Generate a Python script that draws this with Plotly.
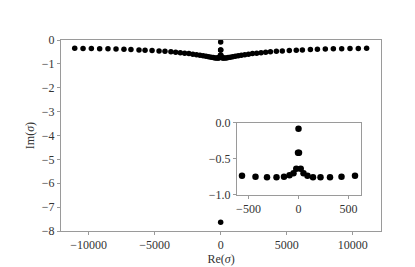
import plotly.graph_objects as go

# Spectrum points (Re(sigma), Im(sigma))
re_sigma = [
    -11060, -10430, -9800, -9170, -8540, -7930, -7330, -6800, -6190, -5730,
    -5200, -4670, -4220, -3770, -3410, -3060, -2730, -2410, -2110, -1830,
    -1570, -1330, -1110, -910, -730,
    -565, -430, -315, -220, -145, -90, -50, -22,
    0, -5, 5, 0,
    22, 50, 90, 145, 220, 315, 430, 565,
    730, 910, 1110, 1330, 1570, 1830, 2110, 2410, 2730, 3060,
    3410, 3770, 4220, 4670, 5200, 5730, 6190, 6800, 7330, 7930,
    8540, 9170, 9800, 10430, 11060,
]
im_sigma = [
    -0.35, -0.355, -0.36, -0.37, -0.37, -0.38, -0.39, -0.40, -0.42, -0.43,
    -0.44, -0.46, -0.47, -0.49, -0.51, -0.53, -0.55, -0.57, -0.60, -0.62,
    -0.64, -0.66, -0.68, -0.70, -0.72,
    -0.736, -0.749, -0.757, -0.757, -0.75, -0.73, -0.70, -0.64,
    -0.085, -0.417, -0.417, -7.63,
    -0.64, -0.70, -0.735, -0.757, -0.757, -0.757, -0.75, -0.736,
    -0.72, -0.70, -0.68, -0.66, -0.64, -0.62, -0.60, -0.57, -0.55, -0.53,
    -0.51, -0.49, -0.47, -0.46, -0.44, -0.43, -0.42, -0.40, -0.39, -0.38,
    -0.37, -0.37, -0.36, -0.355, -0.35,
]

main_xticks = [-10000, -5000, 0, 5000, 10000]
main_yticks = [0, -1, -2, -3, -4, -5, -6, -7, -8]
inset_xticks = [-500, 0, 500]
inset_yticks = [0.0, -0.5, -1.0]

FONT = "Liberation Serif"
TXT = "#333333"
SPINE = "#9a9a9a"

def fmt(v, dec=0):
    s = f"{abs(v):.{dec}f}"
    return ("\u2212" + s) if v < 0 else s

fig = go.Figure()
fig.add_trace(go.Scatter(x=re_sigma, y=im_sigma, mode="markers",
                         marker=dict(color="black", size=5.5),
                         xaxis="x", yaxis="y", showlegend=False))
fig.add_trace(go.Scatter(x=re_sigma, y=im_sigma, mode="markers",
                         marker=dict(color="black", size=6.5),
                         xaxis="x2", yaxis="y2", showlegend=False))

axis_common = dict(showline=True, linecolor=SPINE, linewidth=1, mirror=True,
                   ticks="outside", ticklen=3, tickwidth=1, tickcolor=SPINE,
                   showgrid=False, zeroline=False,
                   tickfont=dict(family=FONT, size=12, color=TXT))

fig.update_layout(
    width=415, height=267,
    margin=dict(l=53, r=42, t=32, b=29),
    paper_bgcolor="white", plot_bgcolor="white",
    font=dict(family=FONT, color=TXT),
    xaxis=dict(domain=[0, 1], range=[-12100, 12150],
               tickvals=main_xticks, ticktext=[fmt(v) for v in main_xticks],
               title=dict(text="Re(<i>σ</i>)", font=dict(family=FONT, size=12, color=TXT), standoff=2),
               **axis_common),
    yaxis=dict(domain=[0, 1], range=[-8, 0],
               tickvals=main_yticks, ticktext=[fmt(v) for v in main_yticks],
               title=dict(text="Im(<i>σ</i>)", font=dict(family=FONT, size=12, color=TXT), standoff=4),
               **axis_common),
    xaxis2=dict(domain=[0.55, 0.9375], range=[-615, 625], anchor="y2",
                tickvals=inset_xticks, ticktext=[fmt(v) for v in inset_xticks],
                **axis_common),
    yaxis2=dict(domain=[0.189, 0.568], range=[-1, 0], anchor="x2",
                tickvals=inset_yticks, ticktext=[fmt(v, 1) for v in inset_yticks],
                **axis_common),
)

fig.write_html("out.html")
